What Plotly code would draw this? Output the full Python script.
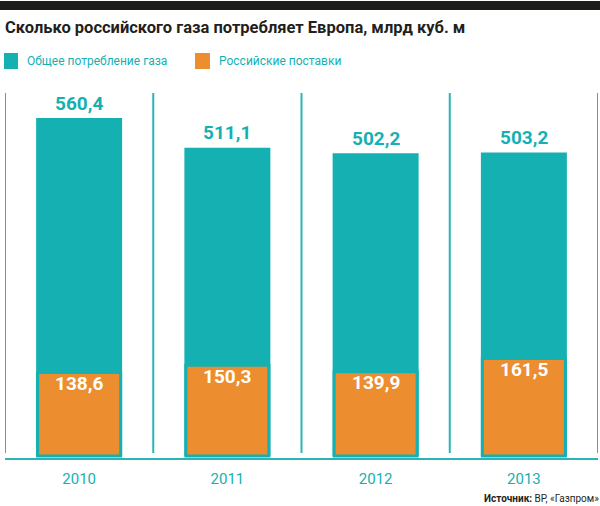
import plotly.graph_objects as go

anos = ["2010", "2011", "2012", "2013"]
consumo_total = [560.4, 511.1, 502.2, 503.2]
entregas_russia = [138.6, 150.3, 139.9, 161.5]
series = ["Общее потребление газа", "Российские поставки"]
titulo = "Сколько российского газа потребляет Европа, млрд куб. м"
fonte = "<b>Источник:</b> BP, «Газпром»"

TEAL = "#15b0b2"
TEAL_LINHA = "#2ab5b8"
LARANJA = "#ec8d2f"
ESCURO = "#231f20"
FONTE = "Roboto, DejaVu Sans, sans-serif"

W, H = 600, 506
L, R, T, B = 5, 2, 93, 47


def px_x(p):
    return (p - L) / (W - L - R)


def px_y(p):
    return (H - B - p) / (H - T - B)


def rotulo(v):
    return f"{v:.1f}".replace(".", ",")


x = list(range(len(anos)))

fig = go.Figure()
fig.add_trace(go.Bar(x=x, y=consumo_total, width=0.58, marker=dict(color=TEAL, line=dict(width=0)),
                     name=series[0], hoverinfo="skip"))
fig.add_trace(go.Bar(x=x, y=entregas_russia, width=0.56,
                     marker=dict(color=LARANJA, line=dict(color=TEAL, width=3)),
                     name=series[1], hoverinfo="skip"))

anot = []
for i, v in enumerate(consumo_total):
    anot.append(dict(x=i, y=v, xref="x", yref="y", text="<b>" + rotulo(v) + "</b>", showarrow=False,
                     yanchor="middle", yshift=15, font=dict(family=FONTE, size=19, color=TEAL)))
for i, v in enumerate(entregas_russia):
    anot.append(dict(x=i, y=v, xref="x", yref="y", text="<b>" + rotulo(v) + "</b>", showarrow=False,
                     yanchor="middle", yshift=-11, font=dict(family=FONTE, size=19, color="white")))

anot.append(dict(x=px_x(3), y=px_y(28), xref="paper", yref="paper", xanchor="left", yanchor="middle",
                 text="<b>" + titulo + "</b>", showarrow=False, font=dict(family=FONTE, size=16.5, color=ESCURO)))
anot.append(dict(x=px_x(25), y=px_y(61), xref="paper", yref="paper", xanchor="left", yanchor="middle",
                 text=series[0], showarrow=False, font=dict(family=FONTE, size=12, color=TEAL)))
anot.append(dict(x=px_x(217), y=px_y(61), xref="paper", yref="paper", xanchor="left", yanchor="middle",
                 text=series[1], showarrow=False, font=dict(family=FONTE, size=12, color=TEAL)))
anot.append(dict(x=px_x(601), y=px_y(499), xref="paper", yref="paper", xanchor="right", yanchor="middle",
                 text=fonte, showarrow=False, font=dict(family=FONTE, size=10, color=ESCURO)))

formas = [
    dict(type="rect", xref="paper", yref="paper", x0=px_x(0), x1=px_x(600), y0=px_y(10), y1=px_y(1),
         fillcolor="#1d1d1b", line=dict(width=0)),
    dict(type="rect", xref="paper", yref="paper", x0=px_x(4), x1=px_x(18), y0=px_y(69), y1=px_y(53),
         fillcolor=TEAL, line=dict(width=0)),
    dict(type="rect", xref="paper", yref="paper", x0=px_x(195), x1=px_x(210), y0=px_y(69), y1=px_y(53),
         fillcolor=LARANJA, line=dict(width=0)),
    dict(type="line", xref="paper", yref="paper", x0=0, x1=1, y0=0, y1=0,
         line=dict(color=TEAL_LINHA, width=2)),
]
for k in range(len(anos) + 1):
    formas.append(dict(type="line", xref="x", yref="paper", x0=k - 0.5, x1=k - 0.5,
                       y0=px_y(453), y1=1, line=dict(color=TEAL_LINHA, width=2)))

fig.update_layout(
    width=W, height=H,
    margin=dict(l=L, r=R, t=T, b=B),
    paper_bgcolor="white", plot_bgcolor="white",
    barmode="overlay", showlegend=False,
    annotations=anot, shapes=formas,
    xaxis=dict(range=[-0.5, 3.5], tickvals=x, ticktext=anos, showgrid=False, zeroline=False,
               ticks="outside", ticklen=6, tickcolor="rgba(0,0,0,0)",
               tickfont=dict(family=FONTE, size=15, color=TEAL), fixedrange=True),
    yaxis=dict(range=[-5, 602], visible=False, fixedrange=True),
)

# the page body has an 8px default margin; drop it so the figure sits at the window's corner
fig.write_html("out.html", config={"displayModeBar": False},
               post_script="document.body.style.margin='0';")
